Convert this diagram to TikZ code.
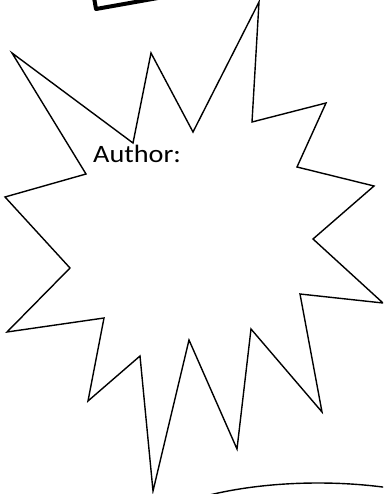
\documentclass[tikz,border=0pt]{standalone}
\usepackage{fontspec}
\usepackage{graphicx}
\setmainfont{Carlito}
\begin{document}
\begin{tikzpicture}[x=1pt,y=-1pt,
  starline/.style={line width=1.4pt, line join=miter},
  boxline/.style={line width=4pt, line join=round},
  label/.style={anchor=base west, inner sep=0pt, font=\fontsize{25}{30}\selectfont}]
\useasboundingbox (0,0) rectangle (383,494);
\clip (0,0) rectangle (383,494);
% partial box at the top
\draw[boxline] (96,9) -- (293,-26) -- (276,-124) -- (79,-89) -- cycle;
% starburst
\draw[starline] (12,53) -- (133,143) -- (151,53) -- (193,132) -- (259,2) -- (252,122)
  -- (326,103) -- (297,167) -- (374,186) -- (313,239) -- (383,303) -- (300,294)
  -- (322,412) -- (251,329) -- (237,449) -- (189,340) -- (153,491) -- (140,356)
  -- (88,401) -- (104,318) -- (7,332) -- (70,268) -- (5,197) -- (86,174) -- cycle;
\node[label] (author) at (93,163) {\scalebox{1.13}[1]{Author:}};
% partial curve at the bottom
\draw[line width=1.4pt] (318,558) ellipse [x radius=200, y radius=75];
\end{tikzpicture}
\end{document}
